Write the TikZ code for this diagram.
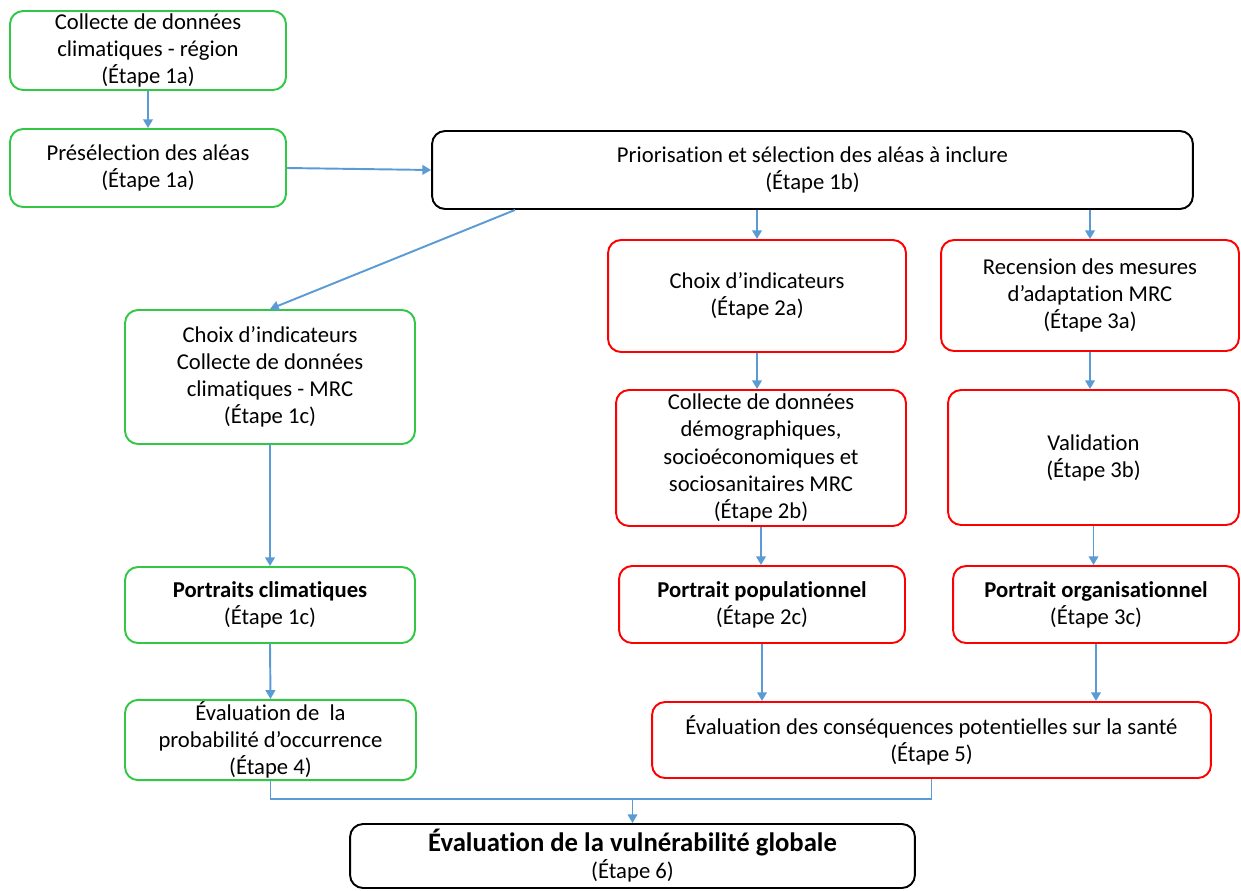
\documentclass[tikz,border=0pt]{standalone}
\usepackage{fontspec}
\setmainfont{Carlito}[Ligatures=NoCommon]
\usetikzlibrary{arrows.meta,calc}
\definecolor{boxgreen}{RGB}{50,200,70}
\definecolor{boxred}{RGB}{255,0,0}
\definecolor{arrowblue}{RGB}{91,155,213}
\tikzset{
  box/.style={draw, rounded corners=2.6mm, line width=1.1pt, align=center, inner sep=1pt, font=\fontsize{12.9}{15.4}\selectfont},
  greenbox/.style={box, draw=boxgreen},
  redbox/.style={box, draw=boxred},
  blackbox/.style={box, draw=black},
  arrow/.style={draw=arrowblue, line width=1.1pt, -{Triangle[width=5.5pt,length=5pt]}},
  link/.style={draw=arrowblue, line width=1.1pt}
}
\begin{document}
\begin{tikzpicture}[x=0.02cm,y=-0.02cm]
	\useasboundingbox (0,0) rectangle (1241,890);
	% left column
	\node[greenbox, minimum width=5.52cm, minimum height=1.58cm] (a1) at (148,50.5) {Collecte de données\\climatiques - région\\(Étape 1a)};
	\node[greenbox, minimum width=5.52cm, minimum height=1.56cm] (a2) at (148,168) {Présélection des aléas\\(Étape 1a)};
	\node[blackbox, minimum width=15.22cm, minimum height=1.56cm] (b) at (812.5,170) {Priorisation et sélection des aléas à inclure\\(Étape 1b)};
	\node[greenbox, minimum width=5.8cm, minimum height=2.68cm] (c1) at (270,377) {Choix d’indicateurs\\Collecte de données\\climatiques - MRC\\(Étape 1c)};
	\node[greenbox, minimum width=5.8cm, minimum height=1.52cm] (c2) at (270,605) {\textbf{Portraits climatiques}\\(Étape 1c)};
	\node[greenbox, minimum width=5.82cm, minimum height=1.52cm] (c3) at (270.5,740) {Évaluation de~~la\\probabilité d’occurrence\\(Étape 4)};
	% population and organisation
	\node[redbox, minimum width=5.96cm, minimum height=2.24cm] (d1) at (757,296) {Choix d’indicateurs\\(Étape 2a)};
	\node[redbox, minimum width=5.8cm, minimum height=2.72cm] (d2) at (761,458) {Collecte de données\\démographiques,\\socioéconomiques et\\sociosanitaires MRC\\(Étape 2b)};
	\node[redbox, minimum width=5.72cm, minimum height=1.54cm] (d3) at (762,604.5) {\textbf{Portrait populationnel}\\(Étape 2c)};
	\node[redbox, minimum width=5.96cm, minimum height=2.22cm] (e1) at (1090,295.5) {Recension des mesures\\d’adaptation MRC\\(Étape 3a)};
	\node[redbox, minimum width=5.82cm, minimum height=2.7cm] (e2) at (1093.5,457.5) {Validation\\(Étape 3b)};
	\node[redbox, minimum width=5.72cm, minimum height=1.54cm] (e3) at (1096,604.5) {\textbf{Portrait organisationnel}\\(Étape 3c)};
	\node[redbox, minimum width=11.18cm, minimum height=1.52cm] (f) at (931.5,740) {Évaluation des conséquences potentielles sur la santé\\(Étape 5)};
	\node[blackbox, minimum width=11.3cm, minimum height=1.28cm] (g) at (632.5,856) {\textbf{\fontsize{15.2}{17}\selectfont Évaluation de la vulnérabilité globale}\\(Étape 6)};
	% connectors
	\draw[arrow] (a1.south) -- (a2.north);
	\draw[arrow] (a2.east) -- (b.west);
	\draw[arrow] ($(b.south west)!0.11!(b.south east)$) -- (c1.north);
	\draw[arrow] (d1.north |- b.south) -- (d1.north);
	\draw[arrow] (e1.north |- b.south) -- (e1.north);
	\draw[arrow] (d1.south) -- (d1.south |- d2.north);
	\draw[arrow] (e1.south) -- (e1.south |- e2.north);
	\draw[arrow] (c1.south) -- (c2.north);
	\draw[arrow] (d2.south) -- (d2.south |- d3.north);
	\draw[arrow] (e2.south) -- (e2.south |- e3.north);
	\draw[arrow] (c2.south) -- (c3.north);
	\draw[arrow] (d3.south) -- (d3.south |- f.north);
	\draw[arrow] (e3.south) -- (e3.south |- f.north);
	\coordinate (join) at ($(g.north)+(0,-24)$);
	\draw[link] (c3.south) |- (join) -| (f.south);
	\draw[arrow] (join) -- (g.north);
\end{tikzpicture}
\end{document}
